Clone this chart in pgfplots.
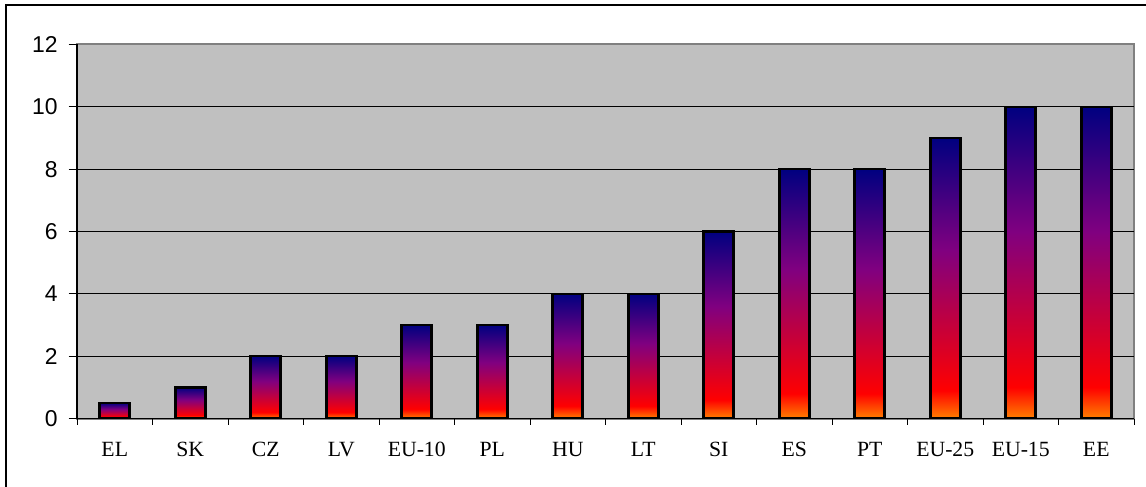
\documentclass[border=0pt]{standalone}
\usepackage{pgfplots}
\pgfplotsset{compat=1.18}
\usepackage{fontspec}
\setmainfont{Liberation Serif}
\newfontfamily\arialfont{Liberation Sans}
\definecolor{bgray}{HTML}{C0C0C0}
\definecolor{bordergray}{HTML}{808080}
\definecolor{fireorange}{RGB}{255,128,0}
\definecolor{firered}{RGB}{255,0,0}
\definecolor{firepurple}{RGB}{128,0,128}
\definecolor{firenavy}{RGB}{0,0,128}
\pgfdeclareverticalshading{fire}{100bp}{color(0bp)=(fireorange); color(25bp)=(fireorange); color(30bp)=(firered); color(55bp)=(firepurple); color(75bp)=(firenavy); color(100bp)=(firenavy)}
\begin{document}
\begin{tikzpicture}
\begin{axis}[
  at={(0,0)}, anchor=south west,
  scale only axis, width=528.5bp, height=187bp,
  xmin=-0.5, xmax=13.5, ymin=0, ymax=12,
  axis lines*=left,
  axis line style={black, line width=0.6bp, -},
  axis background/.style={fill=bgray, draw=bordergray, line width=1bp},
  xtick={0,...,13},
  xticklabels={EL,SK,CZ,LV,EU-10,PL,HU,LT,SI,ES,PT,EU-25,EU-15,EE},
  minor xtick={-0.5,0.5,...,13.5},
  ytick={0,2,...,10}, extra y ticks={12}, extra y tick style={grid=none},
  ymajorgrids, major grid style={black, line width=0.5bp},
  tick align=outside,
  major tick length=4.2bp, minor tick length=3bp,
  major x tick style={draw=none},
  minor x tick style={black, line width=0.5bp},
  y tick style={black, line width=0.5bp},
  yticklabel style={font=\arialfont\fontsize{11.5}{13}\selectfont, /pgf/number format/assume math mode=true, xshift=-2bp},
  xticklabel style={font=\fontsize{10.9}{13}\selectfont, yshift=-4bp},
  mybar/.style={ybar, bar width=15bp, bar shift=0pt, draw=black, line width=1.3bp, shading=fire},
]
\addplot[mybar] coordinates {(0,0.5)};
\addplot[mybar] coordinates {(1,1)};
\addplot[mybar] coordinates {(2,2)};
\addplot[mybar] coordinates {(3,2)};
\addplot[mybar] coordinates {(4,3)};
\addplot[mybar] coordinates {(5,3)};
\addplot[mybar] coordinates {(6,4)};
\addplot[mybar] coordinates {(7,4)};
\addplot[mybar] coordinates {(8,6)};
\addplot[mybar] coordinates {(9,8)};
\addplot[mybar] coordinates {(10,8)};
\addplot[mybar] coordinates {(11,9)};
\addplot[mybar] coordinates {(12,10)};
\addplot[mybar] coordinates {(13,10)};
\end{axis}
\draw[line width=1bp, black] (-35.25bp,-50bp) -- (-35.25bp,206.75bp) -- (600bp,206.75bp);
\pgfresetboundingbox
\path[use as bounding box] (-38.5bp,-34.25bp) rectangle (534.5bp,209.25bp);
\end{tikzpicture}
\end{document}
